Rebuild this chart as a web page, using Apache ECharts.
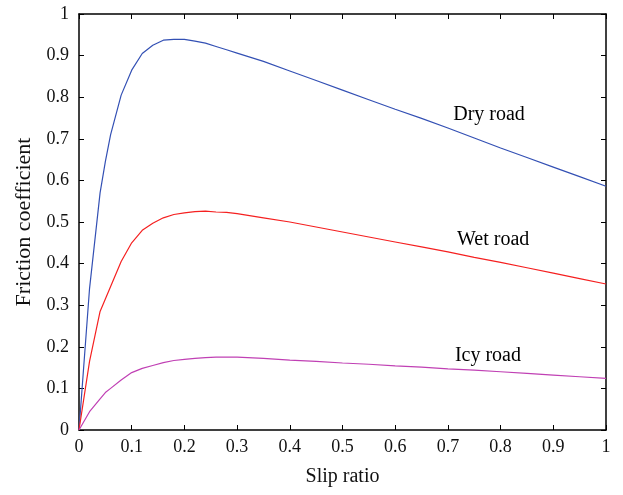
<!DOCTYPE html>
<html>
<head>
<meta charset="utf-8">
<script src="https://cdn.jsdelivr.net/npm/echarts@6/dist/echarts.min.js"></script>
<style>html,body{margin:0;padding:0;background:#fff}#c{width:623px;height:495px}</style>
</head>
<body>
<div id="c"></div>
<script>
var slip = [0, 0.02, 0.04, 0.05, 0.06, 0.08, 0.10, 0.12, 0.14, 0.16, 0.18, 0.20, 0.22, 0.24, 0.26, 0.28, 0.30, 0.35, 0.40, 0.45, 0.50, 0.55, 0.60, 0.65, 0.70, 0.75, 0.80, 0.85, 0.90, 0.95, 1.00];
var dry = [0, 0.34, 0.57, 0.645, 0.71, 0.805, 0.865, 0.905, 0.925, 0.937, 0.939, 0.939, 0.935, 0.93, 0.922, 0.914, 0.906, 0.886, 0.863, 0.840, 0.817, 0.794, 0.771, 0.749, 0.726, 0.702, 0.678, 0.655, 0.632, 0.609, 0.586];
var wet = [0, 0.165, 0.285, 0.315, 0.345, 0.405, 0.45, 0.48, 0.497, 0.51, 0.518, 0.522, 0.525, 0.526, 0.524, 0.523, 0.52, 0.51, 0.500, 0.488, 0.476, 0.464, 0.452, 0.440, 0.428, 0.415, 0.403, 0.39, 0.377, 0.364, 0.351];
var icy = [0, 0.044, 0.075, 0.09, 0.10, 0.12, 0.138, 0.148, 0.155, 0.162, 0.167, 0.17, 0.172, 0.174, 0.175, 0.175, 0.175, 0.172, 0.168, 0.165, 0.161, 0.158, 0.154, 0.151, 0.147, 0.144, 0.140, 0.136, 0.132, 0.128, 0.124];
var seriesNames = ['Dry road', 'Wet road', 'Icy road'];
var labelX = [0.778, 0.786, 0.776];
var labelY = [0.757, 0.457, 0.178];
var colors = ['#3350b4', '#f52020', '#c040b4'];

function pairs(ys){ return slip.map(function(x,i){ return [x, ys[i]]; }); }
var FONT = 'Liberation Serif';
var chart = echarts.init(document.getElementById('c'));
var axisCommon = {
  type: 'value', min: 0, max: 1, interval: 0.1,
  axisLine: {show: true, onZero: false, lineStyle: {color: '#000', width: 1.5}},
  axisTick: {show: true, inside: true, length: 5, lineStyle: {color: '#000', width: 1}},
  splitLine: {show: false}
};
function lbl(v){ return v === 0 ? '0' : (v === 1 ? '1' : v.toFixed(1)); }
var series = [dry, wet, icy].map(function(ys, k){
  return {
    type: 'line', name: seriesNames[k], data: pairs(ys), showSymbol: false, smooth: false,
    lineStyle: {color: colors[k], width: 1.2}, itemStyle: {color: colors[k]}
  };
});
series.push({
  type: 'scatter', silent: true, symbol: 'rect', symbolSize: 2, itemStyle: {color: 'rgba(255,255,255,0)'},
  labelLayout: {hideOverlap: false},
  data: seriesNames.map(function(n, k){ return {value: [labelX[k], labelY[k]], name: n}; }),
  label: {show: true, position: 'inside', formatter: function(p){ return p.name; }, fontFamily: FONT, fontSize: 20, color: '#000', opacity: 1, textBorderWidth: 0}
});
var option = {
  animation: false,
  backgroundColor: '#fff',
  grid: {left: 79, top: 14, right: 17, bottom: 65},
  xAxis: [
    Object.assign({}, axisCommon, {position: 'bottom', name: 'Slip ratio', nameLocation: 'middle', nameGap: 37,
      nameTextStyle: {fontFamily: FONT, fontSize: 20, color: '#111', verticalAlign: 'top'},
      axisLabel: {fontFamily: FONT, fontSize: 18, color: '#111', margin: 8, formatter: lbl}}),
    Object.assign({}, axisCommon, {position: 'top', axisLabel: {show: false}})
  ],
  yAxis: [
    Object.assign({}, axisCommon, {position: 'left', name: 'Friction coefficient', nameLocation: 'middle', nameGap: 44,
      nameTextStyle: {fontFamily: FONT, fontSize: 22, color: '#111', verticalAlign: 'bottom'},
      axisLabel: {fontFamily: FONT, fontSize: 18, color: '#111', margin: 10, formatter: lbl}}),
    Object.assign({}, axisCommon, {position: 'right', axisLabel: {show: false}})
  ],
  series: series
};
chart.setOption(option);
</script>
</body>
</html>
